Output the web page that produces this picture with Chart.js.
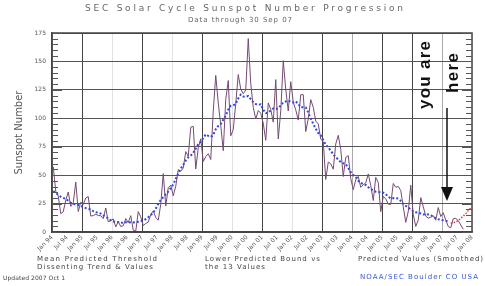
<!DOCTYPE html>
<html>
<head>
<meta charset="utf-8">
<script src="https://cdn.jsdelivr.net/npm/chart.js@4/dist/chart.umd.min.js"></script>
<style>
  html, body { margin: 0; padding: 0; background: #fff; }
</style>
</head>
<body>
<canvas id="myChart" width="485" height="286"></canvas>
<script>
// monthly sunspot numbers, Jan 1994 .. Sep 2007
const startYear = 1994;
const monthly = [
  57.5, 35.8, 31.7, 16.1, 17.8, 28.0, 35.1, 22.5, 25.7, 44.0, 18.0, 26.2,
  24.2, 29.9, 31.1, 14.0, 14.5, 15.6, 14.5, 14.3, 11.8, 21.1, 9.0, 10.0,
  11.5, 4.4, 9.2, 4.8, 5.5, 11.8, 8.2, 14.4, 1.6, 0.9, 17.9, 13.3,
  5.7, 7.6, 8.7, 15.5, 18.5, 12.7, 10.4, 24.4, 51.3, 22.8, 39.0, 41.2,
  31.9, 40.3, 54.8, 53.4, 56.3, 70.7, 66.6, 92.2, 92.9, 55.5, 74.0, 81.9,
  62.0, 66.3, 68.8, 63.7, 106.4, 137.7, 113.5, 93.7, 71.5, 116.7, 133.2, 84.6,
  90.1, 112.9, 138.5, 125.5, 121.6, 124.9, 170.1, 130.5, 109.7, 99.4, 106.8, 104.4,
  95.6, 80.6, 113.5, 107.7, 96.6, 134.0, 81.8, 106.4, 150.7, 125.5, 106.5, 132.2,
  114.1, 107.4, 98.4, 120.7, 120.8, 88.3, 99.6, 116.4, 109.6, 97.5, 95.0, 81.6,
  79.5, 46.2, 61.5, 60.0, 55.2, 77.4, 85.0, 72.7, 48.8, 65.6, 67.2, 47.0,
  37.2, 46.0, 48.9, 39.3, 41.5, 43.2, 51.1, 40.9, 27.7, 48.0, 43.5, 17.9,
  31.3, 29.2, 24.5, 24.2, 42.7, 39.3, 40.1, 36.4, 22.1, 8.5, 18.0, 41.2,
  15.3, 4.9, 10.6, 30.2, 22.3, 13.9, 12.2, 12.9, 14.4, 10.4, 21.5, 13.6,
  16.9, 10.6, 4.8, 3.7, 11.7, 12.0, 10.0, 6.2, 2.4
];

// smoothed monthly values, Jan 1994 .. Mar 2007
const smoothed = [
  35.9, 34.3, 32.7, 31.0, 30.0, 29.0, 27.5, 25.9, 24.6, 24.3, 23.9, 23.0,
  21.9, 21.0, 20.5, 19.7, 18.3, 17.3, 17.2, 16.2, 14.6, 13.3, 11.9, 10.3,
  9.3, 9.0, 8.7, 8.3, 8.0, 8.6, 8.3, 8.5, 8.3, 8.6, 9.0, 9.6,
  10.0, 11.3, 13.0, 14.8, 17.0, 20.5, 24.7, 28.1, 30.6, 33.2, 35.6, 38.5,
  41.9, 46.6, 51.6, 55.8, 59.1, 62.8, 65.7, 67.2, 69.5, 73.3, 77.2, 79.5,
  82.7, 85.8, 84.6, 83.6, 85.4, 90.3, 93.3, 95.0, 98.7, 102.3, 107.8, 111.0,
  111.4, 112.7, 117.5, 120.8, 119.1, 118.9, 119.6, 116.9, 114.3, 112.5, 111.9, 112.3,
  107.5, 104.5, 104.9, 107.0, 108.6, 108.4, 108.5, 111.3, 114.1, 114.8, 115.6, 114.5,
  113.9, 114.9, 112.6, 109.8, 109.8, 109.5, 105.2, 99.6, 95.1, 90.8, 87.0, 85.0,
  80.8, 76.6, 74.5, 71.4, 68.3, 65.6, 63.9, 61.4, 60.5, 59.7, 56.2, 52.6,
  50.0, 48.3, 45.1, 43.2, 42.0, 41.4, 39.4, 37.8, 36.6, 35.4, 35.0, 35.2,
  34.6, 33.3, 31.0, 29.6, 29.8, 29.7, 29.4, 27.4, 24.7, 22.9, 21.6, 19.9,
  18.2, 17.3, 17.0, 16.3, 15.4, 15.6, 15.4, 14.6, 13.6, 12.1, 11.2, 10.7,
  10.3, 9.8, 9.3
];

// predicted (smoothed) values, Apr 2007 .. Dec 2007
const predictedStart = 159;
const predicted = [8, 8, 9, 10, 12, 14, 16, 19, 21];

const tickMonths = ["Jan", "Jul"];
const yTicks = [0, 25, 50, 75, 100, 125, 150, 175];

// turn month index into decimal year on the x axis
function toPoints(values, offset) {
  return values.map((v, i) => ({ x: startYear + (offset + i + 0.5) / 12, y: v }));
}

const darkYears = [1995, 1997, 1999, 2001, 2003, 2005, 2006];
const midYears = [2004, 2007];

// draw text stretched (letter spaced) to a given width
function fitText(ctx, text, x, y, width, align) {
  const w = ctx.measureText(text).width;
  if ("letterSpacing" in ctx && text.length > 1) {
    ctx.letterSpacing = ((width - w) / (text.length - 1)) + "px";
  }
  ctx.textAlign = "left";
  let x0 = x;
  if (align === "center") x0 = x - width / 2;
  ctx.fillText(text, x0, y);
  ctx.letterSpacing = "0px";
}

const decor = {
  id: "decor",
  afterDraw(chart) {
    const ctx = chart.ctx;
    const a = chart.chartArea;
    const ys = chart.scales.y;
    ctx.save();

    // frame
    ctx.strokeStyle = "#444";
    ctx.lineWidth = 1.5;
    ctx.strokeRect(a.left, a.top, a.right - a.left, a.bottom - a.top);

    // inner ticks on both sides
    ctx.lineWidth = 1;
    ctx.strokeStyle = "#555";
    for (let v = 0; v <= 175; v += 5) {
      const py = Math.round(ys.getPixelForValue(v)) + 0.5;
      const len = v % 25 === 0 ? 10 : 6;
      ctx.beginPath();
      ctx.moveTo(a.left, py); ctx.lineTo(a.left + len, py);
      ctx.moveTo(a.right, py); ctx.lineTo(a.right - len, py);
      ctx.stroke();
    }

    // titles
    ctx.fillStyle = "#666";
    ctx.textBaseline = "middle";
    ctx.font = "9px 'DejaVu Sans'";
    fitText(ctx, "SEC Solar Cycle Sunspot Number Progression", 244, 9, 318, "center");
    ctx.font = "7px 'DejaVu Sans'";
    fitText(ctx, "Data through 30 Sep 07", 240, 20, 104, "center");

    // footnotes
    ctx.fillStyle = "#444";
    ctx.font = "7px 'DejaVu Sans'";
    fitText(ctx, "Mean Predicted Threshold", 37, 259, 120);
    fitText(ctx, "Dissenting Trend & Values", 37, 267, 116);
    fitText(ctx, "Lower Predicted Bound vs", 205, 259, 115);
    fitText(ctx, "the 13 Values", 205, 267, 60);
    fitText(ctx, "Predicted Values (Smoothed)", 358, 259, 125);
    ctx.font = "6px 'DejaVu Sans'";
    fitText(ctx, "Updated 2007 Oct 1", 3, 278, 62);
    ctx.fillStyle = "#3a58d8";
    ctx.font = "7px 'DejaVu Sans'";
    fitText(ctx, "NOAA/SEC Boulder CO USA", 360, 277, 118);

    // you are here
    ctx.fillStyle = "#111";
    ctx.font = "600 17px 'Liberation Sans'";
    ctx.save();
    ctx.translate(425, 75);
    ctx.rotate(-Math.PI / 2);
    fitText(ctx, "you are", 0, 0, 68, "center");
    ctx.restore();
    ctx.save();
    ctx.translate(453, 73);
    ctx.rotate(-Math.PI / 2);
    fitText(ctx, "here", 0, 0, 40, "center");
    ctx.restore();

    // arrow
    ctx.strokeStyle = "#111";
    ctx.lineWidth = 1.5;
    ctx.beginPath();
    ctx.moveTo(447, 108); ctx.lineTo(447, 190);
    ctx.stroke();
    ctx.fillStyle = "#111";
    ctx.beginPath();
    ctx.moveTo(441, 187); ctx.lineTo(453, 187); ctx.lineTo(447, 201);
    ctx.closePath();
    ctx.fill();

    ctx.restore();
  }
};

const ctx = document.getElementById("myChart").getContext("2d");
const myChart = new Chart(ctx, {
  type: "line",
  data: {
    datasets: [
      {
        label: "Monthly Values",
        data: toPoints(monthly, 0),
        borderColor: "#744a74",
        borderWidth: 1,
        pointRadius: 0,
        fill: false,
      },
      {
        label: "Smoothed Monthly Values",
        data: toPoints(smoothed, 0),
        borderColor: "#2a46ea",
        borderWidth: 2,
        borderDash: [2, 2],
        pointRadius: 0,
        fill: false,
      },
      {
        label: "Predicted Values",
        data: toPoints(predicted, predictedStart),
        borderColor: "#e03a3a",
        borderWidth: 1.5,
        borderDash: [1.5, 1.5],
        pointRadius: 0,
        fill: false,
      },
    ],
  },
  options: {
    responsive: false,
    animation: false,
    layout: { padding: { top: 33, right: 13, left: 0, bottom: 0 } },
    plugins: {
      legend: { display: false },
      tooltip: { enabled: false },
    },
    scales: {
      x: {
        type: "linear",
        min: 1994,
        max: 2008,
        afterFit(scale) { scale.height = 54; },
        afterBuildTicks(scale) {
          const t = [];
          for (let y = 1994; y <= 2008; y += 0.5) t.push({ value: y });
          scale.ticks = t;
        },
        ticks: {
          autoSkip: false,
          minRotation: 45,
          maxRotation: 45,
          padding: 2,
          color: "#555",
          font: { family: "DejaVu Sans", size: 6 },
          callback: (v) => {
            const yr = Math.floor(v + 0.001);
            const m = tickMonths[(v - yr) > 0.25 ? 1 : 0];
            return m + " " + String(yr).slice(2);
          },
        },
        grid: {
          drawTicks: false,
          lineWidth: 1,
          color: (c) => {
            const v = c.tick ? c.tick.value : 0;
            if (darkYears.includes(v)) return "#444";
            if (midYears.includes(v)) return "#aaa";
            if (Number.isInteger(v)) return "#e2e2e2";
            return "rgba(0,0,0,0)";
          },
        },
        border: { color: "#444", width: 1.5 },
      },
      y: {
        min: 0,
        max: 175,
        afterFit(scale) { scale.width = 52; },
        afterBuildTicks(scale) { scale.ticks = yTicks.map((v) => ({ value: v })); },
        ticks: {
          padding: 6,
          color: "#555",
          font: { family: "DejaVu Sans", size: 6 },
        },
        grid: { drawTicks: false, color: "#555", lineWidth: 1 },
        border: { color: "#444", width: 1.5 },
        title: {
          display: true,
          text: "Sunspot Number",
          color: "#555",
          font: { family: "DejaVu Sans", size: 10 },
          padding: { top: 13, bottom: 0 },
        },
      },
    },
  },
  plugins: [decor],
});
</script>
</body>
</html>
